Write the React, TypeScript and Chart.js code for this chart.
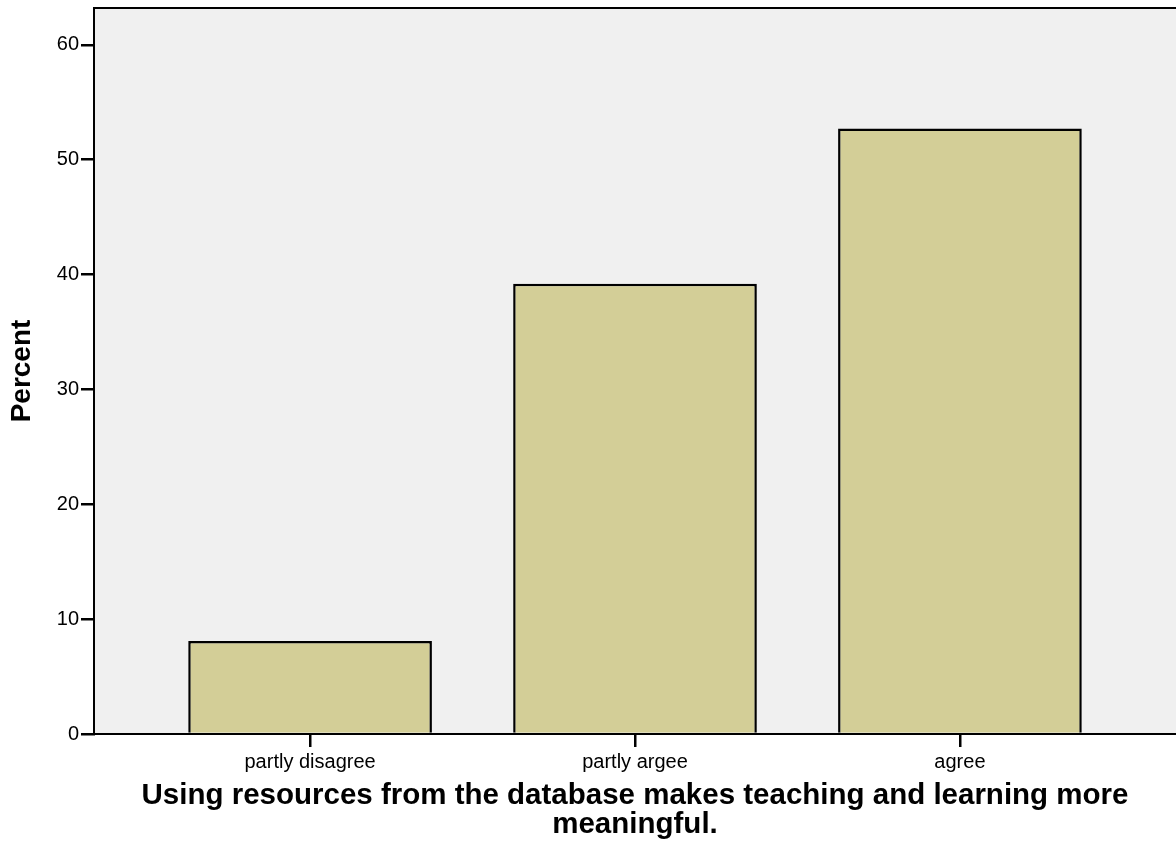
import React, { useEffect, useRef } from "react";
import { Chart, registerables } from "chart.js";

Chart.register(...registerables);

const categories: string[] = ["partly disagree", "partly argee", "agree"];
const percentValues: number[] = [8.1, 39.2, 52.7];
const yTickStep = 10;
const yMin = 0;
const yMax = 63.2;
const xTitleLines: string[] = [
  "Using resources from the database makes teaching and learning more",
  "meaningful.",
];
const yTitle = "Percent";

const FONT = "'Liberation Sans', Arial, Helvetica, sans-serif";

const plotDecor = {
  id: "plotDecor",
  beforeDraw(chart: any) {
    const { ctx, chartArea } = chart;
    if (!chartArea) return;
    ctx.save();
    ctx.fillStyle = "#F0F0F0";
    ctx.fillRect(chartArea.left, chartArea.top, chartArea.right - chartArea.left, chartArea.bottom - chartArea.top);
    ctx.restore();
  },
  afterDraw(chart: any) {
    const { ctx, chartArea } = chart;
    if (!chartArea) return;
    ctx.save();
    ctx.strokeStyle = "#000000";
    ctx.lineWidth = 2;
    ctx.beginPath();
    ctx.moveTo(chartArea.left - 1, chartArea.top);
    ctx.lineTo(chartArea.right, chartArea.top);
    ctx.stroke();
    ctx.restore();
  },
};

export default function App() {
  const canvasRef = useRef<HTMLCanvasElement | null>(null);

  useEffect(() => {
    const canvas = canvasRef.current;
    if (!canvas) return;
    const points = categories.map((_, i) => ({ x: i, y: percentValues[i] }));
    const chart = new Chart(canvas, {
      type: "bar",
      data: {
        datasets: [
          {
            label: yTitle,
            data: points as any,
            backgroundColor: "#D3CE97",
            borderColor: "#000000",
            borderWidth: 2.5,
            borderSkipped: "start",
            categoryPercentage: 1,
            barPercentage: 0.75,
          },
        ],
      },
      options: {
        animation: false,
        responsive: true,
        maintainAspectRatio: false,
        layout: { padding: { top: 8, left: 0, right: 0, bottom: 0 } },
        plugins: {
          legend: { display: false },
          tooltip: { enabled: false },
          title: { display: false },
        },
        scales: {
          x: {
            type: "linear",
            min: -0.665,
            max: categories.length - 1 + 0.665,
            offset: false,
            afterBuildTicks(scale: any) {
              scale.ticks = categories.map((_, i) => ({ value: i }));
            },
            afterFit(scale: any) {
              scale.height = 121;
              scale.paddingLeft = 0;
              scale.paddingRight = 0;
            },
            ticks: {
              autoSkip: false,
              maxRotation: 0,
              minRotation: 0,
              padding: 3,
              color: "#000000",
              font: { family: FONT, size: 20 },
              callback: (v: any) => categories[Math.round(Number(v))] ?? "",
            },
            grid: {
              display: true,
              offset: false,
              drawOnChartArea: false,
              drawTicks: true,
              tickLength: 13,
              color: "#000000",
              lineWidth: 2.5,
            },
            border: { display: true, color: "#000000", width: 2 },
            title: {
              display: true,
              text: xTitleLines,
              color: "#000000",
              font: { family: FONT, size: 29.5, weight: "bold", lineHeight: 1.0 },
              padding: { top: 0, bottom: 15 },
            },
          },
          y: {
            type: "linear",
            min: yMin,
            max: yMax,
            afterFit(scale: any) {
              scale.width = 94;
              scale.paddingTop = 0;
              scale.paddingBottom = 0;
            },
            ticks: {
              stepSize: yTickStep,
              includeBounds: false,
              padding: 2,
              color: "#000000",
              font: { family: FONT, size: 20 },
            },
            grid: {
              display: true,
              drawOnChartArea: false,
              drawTicks: true,
              tickLength: 13,
              color: "#000000",
              lineWidth: 2.5,
            },
            border: { display: true, color: "#000000", width: 2 },
            title: {
              display: true,
              text: yTitle,
              color: "#000000",
              font: { family: FONT, size: 28, weight: "bold" },
              padding: { top: 5, bottom: 0 },
            },
          },
        },
      },
      plugins: [plotDecor],
    });
    return () => chart.destroy();
  }, []);

  return (
    <div style={{ position: "fixed", left: 0, top: 0, width: "1176px", height: "855px", background: "#FFFFFF" }}>
      <canvas ref={canvasRef} />
    </div>
  );
}
